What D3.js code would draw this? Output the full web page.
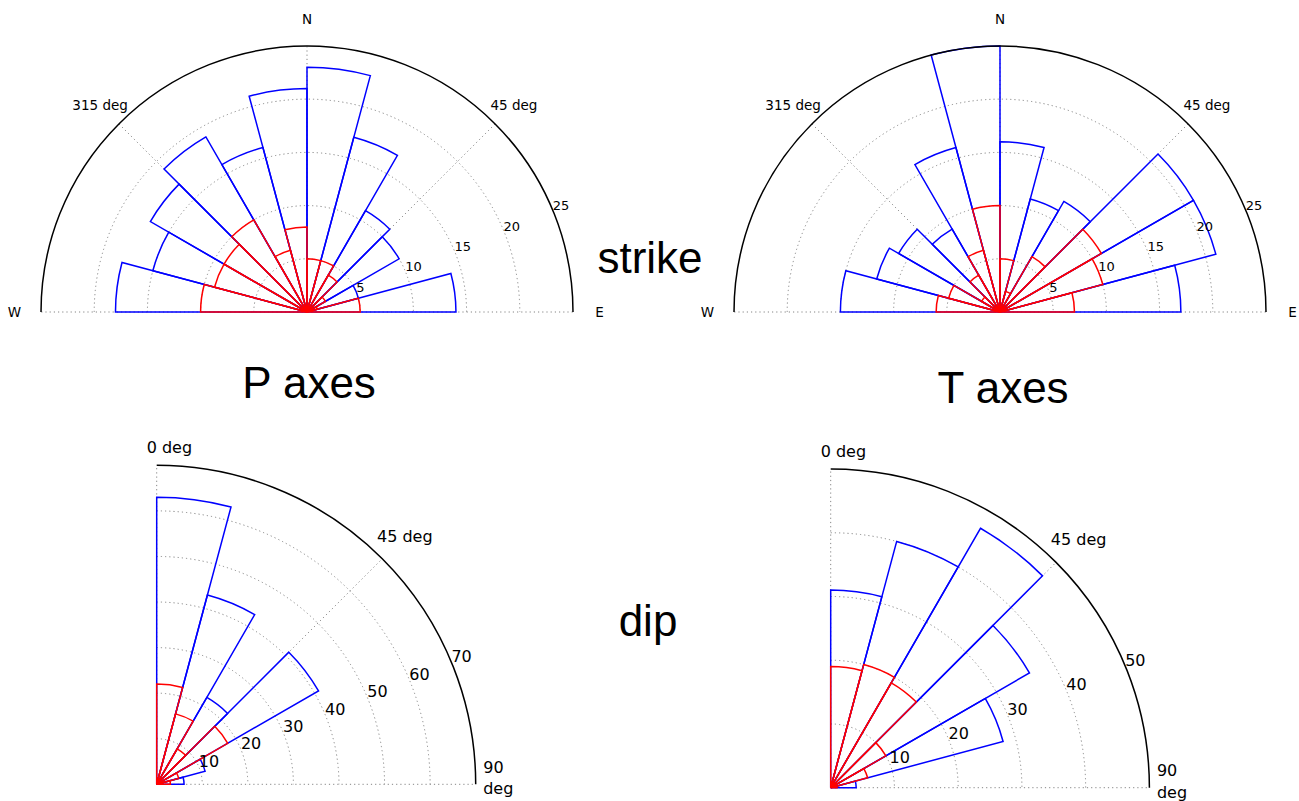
<!DOCTYPE html>
<html><head><meta charset="utf-8">
<script src="https://cdn.jsdelivr.net/npm/d3@7"></script>
<style>body{margin:0;background:#fff}svg{display:block}</style>
</head><body>
<svg id="c" width="1299" height="801"></svg>
<script>
// ---- data (counts per 15-degree bin) ----
const strikeBins = [270, 285, 300, 315, 330, 345, 0, 15, 30, 45, 60, 75];
const pStrikeAll = [18, 15, 17, 19, 16, 21, 23, 17, 11, 10, 5, 14];
const pStrikeSel = [10, 9, 9, 10, 6, 8, 5, 5, 4, 2, 1, 5];
const tStrikeAll = [15, 12, 11, 9, 16, 25, 16, 11, 12, 21, 21, 17];
const tStrikeSel = [6, 5, 2, 4, 6, 10, 5, 2, 6, 11, 10, 7];

const dipBins = [0, 15, 30, 45, 60, 75];
const pDipAll = [63, 43, 22, 41, 11, 6];
const pDipSel = [22, 16, 9, 18, 5, 3];
const tDipAll = [31, 40, 47, 36, 28, 4];
const tDipSel = [19, 20, 19, 10, 6, 1];

const strikeTicks = [5, 10, 15, 20, 25];
const pDipTicks = [10, 20, 30, 40, 50, 60, 70];
const tDipTicks = [10, 20, 30, 40, 50];

const strikeAngleLabels = [
  {a: -90, t: "W"}, {a: -45, t: "315 deg"}, {a: 0, t: "N"}, {a: 45, t: "45 deg"}, {a: 90, t: "E"}
];
const dipAngleLabels = [{a: 45, t: "45 deg"}];
const binWidth = 15;

const svg = d3.select("#c");
const DEG = Math.PI / 180;
const compass = d => (d > 180 ? d - 360 : d);
const GRID = "#858585";

function rose(cfg) {
  const g = svg.append("g").attr("transform", `translate(${cfg.cx},${cfg.cy})`);
  const r = d3.scaleLinear().domain([0, cfg.rmax]).range([0, cfg.R]);

  // dotted rings
  cfg.ticks.filter(t => t < cfg.rmax).forEach(t => {
    const p = d3.path();
    p.arc(0, 0, r(t), (cfg.t0 - 90) * DEG, (cfg.t1 - 90) * DEG, false);
    g.append("path").attr("d", p.toString()).attr("fill", "none")
      .attr("stroke", GRID).attr("stroke-width", 1).attr("stroke-dasharray", "1.2,3");
  });
  // dotted radial grid lines
  cfg.gridAngles.forEach(a => {
    g.append("line")
      .attr("x1", 0).attr("y1", 0)
      .attr("x2", r(cfg.rmax) * Math.sin(a * DEG))
      .attr("y2", -r(cfg.rmax) * Math.cos(a * DEG))
      .attr("stroke", GRID).attr("stroke-width", 1).attr("stroke-dasharray", "1.2,3");
  });

  const arc = d3.arc()
    .innerRadius(0)
    .outerRadius(d => r(Math.min(d.v, cfg.rmax)))
    .startAngle(d => compass(d.b) * DEG)
    .endAngle(d => (compass(d.b) + binWidth) * DEG);

  const series = [
    {vals: cfg.all, color: "#0000ff"},
    {vals: cfg.sel, color: "#ff0000"}
  ];
  series.forEach(s => {
    g.append("g").selectAll("path")
      .data(cfg.bins.map((b, i) => ({b: b, v: s.vals[i]})))
      .join("path")
      .attr("d", arc)
      .attr("fill", "none")
      .attr("stroke", s.color)
      .attr("stroke-width", 1.5)
      .attr("stroke-linejoin", "miter");
  });

  // outer spine arc
  const sp = d3.path();
  sp.arc(0, 0, r(cfg.rmax), (cfg.t0 - 90) * DEG, (cfg.t1 - 90) * DEG, false);
  g.append("path").attr("d", sp.toString()).attr("fill", "none")
    .attr("stroke", "#000").attr("stroke-width", 1.5);

  // radial tick labels along 22.5 deg above horizontal
  const la = 22.5 * DEG;
  g.append("g").selectAll("text").data(cfg.ticks).join("text")
    .attr("x", d => r(d) * Math.cos(la))
    .attr("y", d => -r(d) * Math.sin(la))
    .attr("text-anchor", "start")
    .attr("font-family", "DejaVu Sans")
    .attr("font-size", cfg.tickFont)
    .attr("fill", "#000")
    .text(d => d);

  // angular labels at 1.1 R
  g.append("g").selectAll("text").data(cfg.angleLabels).join("text")
    .attr("x", d => 1.1 * cfg.R * Math.sin(d.a * DEG))
    .attr("y", d => -1.1 * cfg.R * Math.cos(d.a * DEG))
    .attr("text-anchor", "middle")
    .attr("dominant-baseline", "central")
    .attr("font-family", "DejaVu Sans")
    .attr("font-size", cfg.angleFont)
    .attr("fill", "#000")
    .text(d => d.t);

  if (cfg.quarter) {
    g.append("text").attr("x", -10).attr("y", -cfg.R - 12.5)
      .attr("font-family", "DejaVu Sans").attr("font-size", cfg.angleFont).text("0 deg");
    const t = g.append("text").attr("font-family", "DejaVu Sans").attr("font-size", cfg.angleFont);
    t.append("tspan").attr("x", cfg.R + 7.5).attr("y", -11.5).text("90");
    t.append("tspan").attr("x", cfg.R + 7.5).attr("y", 10).text("deg");
  }
  return g;
}

rose({cx: 307, cy: 312, R: 266, rmax: 25, t0: -90, t1: 90, gridAngles: [-90, -45, 0, 45, 90],
  bins: strikeBins, all: pStrikeAll, sel: pStrikeSel, ticks: strikeTicks,
  angleLabels: strikeAngleLabels, tickFont: 13, angleFont: 13.5});
rose({cx: 1000, cy: 312, R: 266, rmax: 25, t0: -90, t1: 90, gridAngles: [-90, -45, 0, 45, 90],
  bins: strikeBins, all: tStrikeAll, sel: tStrikeSel, ticks: strikeTicks,
  angleLabels: strikeAngleLabels, tickFont: 13, angleFont: 13.5});
rose({cx: 156.7, cy: 784.3, R: 319, rmax: 70, t0: 0, t1: 90, gridAngles: [0, 45, 90],
  bins: dipBins, all: pDipAll, sel: pDipSel, ticks: pDipTicks,
  angleLabels: dipAngleLabels, tickFont: 16, angleFont: 16, quarter: true});
rose({cx: 830.7, cy: 787.7, R: 318.7, rmax: 50, t0: 0, t1: 90, gridAngles: [0, 45, 90],
  bins: dipBins, all: tDipAll, sel: tDipSel, ticks: tDipTicks,
  angleLabels: dipAngleLabels, tickFont: 16, angleFont: 16, quarter: true});

// big titles
const titles = [
  {t: "strike", x: 650, y: 273},
  {t: "P axes", x: 309, y: 398},
  {t: "T axes", x: 1003, y: 403},
  {t: "dip", x: 648, y: 636}
];
svg.append("g").selectAll("text").data(titles).join("text")
  .attr("x", d => d.x).attr("y", d => d.y)
  .attr("text-anchor", "middle")
  .attr("font-family", "Liberation Sans, Arial, sans-serif")
  .attr("font-size", 44)
  .attr("fill", "#000")
  .text(d => d.t);
</script>
</body></html>
